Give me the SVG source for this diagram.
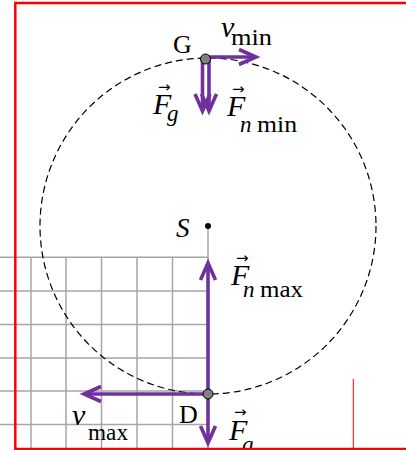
<svg xmlns="http://www.w3.org/2000/svg" width="406" height="450" viewBox="0 0 406 450">
<style>
.grid line{stroke:#a6a6a6;stroke-width:1.5}
.frame{stroke:#ff0000;fill:none}
.vec{stroke:#7030a0;stroke-width:3.6;fill:none}
.dot{fill:#808080;stroke:#000;stroke-width:1}
text{font-family:"Liberation Serif","Times New Roman",serif;fill:#000}
.it{font-style:italic}
.acc{font-family:"DejaVu Sans",sans-serif;font-size:15px;font-style:normal}
.big{font-size:30px}
.sub{font-size:23px}
</style>
<defs>
<marker id="ah" markerUnits="userSpaceOnUse" orient="auto" refX="0" refY="0" markerWidth="40" markerHeight="40" viewBox="-25 -20 40 40" overflow="visible">
<path d="M-17,-7.5 L0,0 L-17,7.5" fill="none" stroke="#7030a0" stroke-width="3.6" stroke-linejoin="miter" stroke-miterlimit="10"/>
</marker>
</defs>
<g id="grid" class="grid">
<line x1="0" y1="257.3" x2="208" y2="257.3"/>
<line x1="0" y1="291" x2="208" y2="291"/>
<line x1="0" y1="324.5" x2="208" y2="324.5"/>
<line x1="0" y1="358" x2="208" y2="358"/>
<line x1="0" y1="391" x2="208" y2="391"/>
<line x1="0" y1="424.5" x2="208" y2="424.5"/>
<line x1="31" y1="257.3" x2="31" y2="450"/>
<line x1="66" y1="257.3" x2="66" y2="450"/>
<line x1="101.5" y1="257.3" x2="101.5" y2="450"/>
<line x1="137" y1="257.3" x2="137" y2="450"/>
<line x1="172.5" y1="257.3" x2="172.5" y2="450"/>
<line x1="208" y1="226" x2="208" y2="450"/>
</g>
<g id="trajectory">
<circle cx="208" cy="226" r="168" fill="none" stroke="#000" stroke-width="1.2" stroke-dasharray="7 4"/>
</g>
<g id="connectors">
<line class="vec" x1="207" y1="57" x2="256" y2="57" marker-end="url(#ah)"/>
<line class="vec" x1="202.5" y1="60" x2="202.5" y2="111" marker-end="url(#ah)"/>
<line class="vec" x1="209" y1="60" x2="209" y2="111" marker-end="url(#ah)"/>
<line class="vec" x1="208" y1="394" x2="208" y2="263" marker-end="url(#ah)"/>
<line class="vec" x1="208" y1="394" x2="208" y2="443" marker-end="url(#ah)"/>
<line class="vec" x1="208" y1="394" x2="84" y2="394" marker-end="url(#ah)"/>
</g>
<g id="node-G">
<circle class="dot" cx="205.5" cy="59" r="5"/>
<text x="173" y="53" font-size="26">G</text>
</g>
<g id="node-S">
<circle cx="208" cy="226" r="3" fill="#000"/>
<text class="it" x="176" y="237" font-size="27">S</text>
</g>
<g id="node-D">
<circle class="dot" cx="208" cy="394" r="5"/>
<text x="179" y="423" font-size="26">D</text>
</g>
<g id="label-vmin">
<text><tspan class="it big" x="221" y="37">v</tspan><tspan class="sub" x="231" y="45" textLength="41" lengthAdjust="spacingAndGlyphs">min</tspan></text>
</g>
<g id="label-Fg-top">
<text><tspan class="acc" x="158" y="92">→</tspan><tspan class="it big" x="153" y="114">F</tspan><tspan class="it sub" x="167" y="121">g</tspan></text>
</g>
<g id="label-Fnmin">
<text><tspan class="acc" x="232" y="94">→</tspan><tspan class="it big" x="227" y="116">F</tspan><tspan class="it sub" x="240" y="132">n</tspan><tspan class="sub" x="257" y="132" textLength="40" lengthAdjust="spacingAndGlyphs">min</tspan></text>
</g>
<g id="label-Fnmax">
<text><tspan class="acc" x="236" y="263">→</tspan><tspan class="it big" x="231" y="285">F</tspan><tspan class="it sub" x="243" y="297">n</tspan><tspan class="sub" x="260" y="297" textLength="43" lengthAdjust="spacingAndGlyphs">max</tspan></text>
</g>
<g id="label-vmax">
<text><tspan class="it big" x="72" y="425">v</tspan><tspan class="sub" x="88" y="440" textLength="40" lengthAdjust="spacingAndGlyphs">max</tspan></text>
</g>
<g id="label-Fg-bottom">
<text><tspan class="acc" x="234" y="417">→</tspan><tspan class="it big" x="229" y="440">F</tspan><tspan class="it sub" x="242" y="452">g</tspan></text>
</g>
<g id="frame">
<polyline class="frame" stroke-width="2.5" points="406,3 15.3,3 15.3,449 406,449"/>
<line x1="353.3" y1="379" x2="353.3" y2="449" stroke="#ff0000" stroke-width="1"/>
</g>
</svg>
